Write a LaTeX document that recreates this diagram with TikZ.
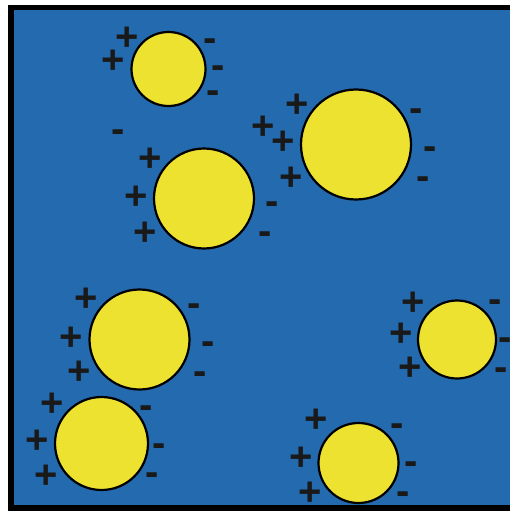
\documentclass[tikz,border=0pt]{standalone}
\usepackage{fontspec}
\newfontfamily\chargefont{Liberation Sans}
\definecolor{water}{RGB}{35,106,174}
\definecolor{grainyellow}{RGB}{237,226,48}
\tikzset{
	grain/.style={circle, draw=black, line width=2.2pt, fill=grainyellow, inner sep=0pt},
	charge/.style={font={\chargefont\bfseries\fontsize{40pt}{40pt}\selectfont}, text=black!90, inner sep=0pt, text height=24pt, text depth=0pt},
}
\begin{document}
\begin{tikzpicture}[x=1pt, y=-1pt]

		% frame

		\clip (0,0) rectangle (510,511);

		\draw[line width=5.5pt, fill=water] (11,7.5) rectangle (520,508);

		% grains

		\node[grain, minimum size=74]  (g1) at (168.5,69)   {};

		\node[grain, minimum size=100] (g2) at (204,198.5)  {};

		\node[grain, minimum size=110] (g3) at (356,144.5)  {};

		\node[grain, minimum size=100] (g4) at (139.5,339.5) {};

		\node[grain, minimum size=93]  (g5) at (101.5,443.5) {};

		\node[grain, minimum size=78]  (g6) at (457,339.5)  {};

		\node[grain, minimum size=80]  (g7) at (358.5,463)  {};

		% charges

		\foreach \x/\y [count=\i] in {127/39, 113/62, 150/159, 136/197, 145/233,
			297/105, 263/127, 283/142, 291/178, 86/299, 71/338, 79/372,
			52/404, 37/441, 46/476, 413/303, 401/334, 410/368,
			316/420, 301/458, 310/493}
			\node[charge] (plus-\i) at (\x,\y) {+};

		\foreach \x/\y [count=\i] in {210/40, 218/66, 213/91, 118/130, 272/202, 265/232,
			416/109, 430/147, 423/177, 194/304, 208/342, 200/372,
			146/406, 159/444, 152/473, 495/300, 505/338, 501/368,
			397/424, 411/462, 403/492}
			\node[charge] (minus-\i) at (\x,\y) {-};

	\end{tikzpicture}
\end{document}
